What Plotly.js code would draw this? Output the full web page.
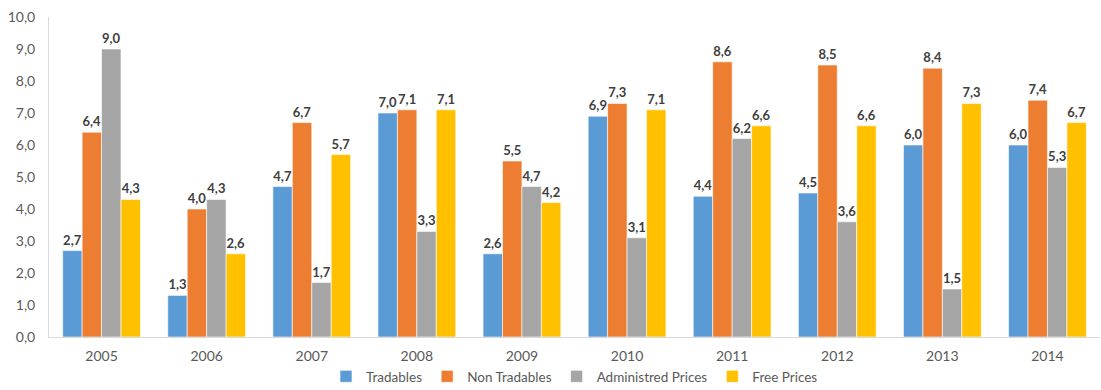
<!DOCTYPE html>
<html>
<head>
<meta charset="utf-8">
<script src="https://cdn.plot.ly/plotly-3.0.1.min.js"></script>
<style>html,body{margin:0;padding:0;background:#fff;}#chart{width:1101px;height:390px;}</style>
</head>
<body>
<div id="chart"></div>
<script>
// Yearly inflation by price group
const years = ['2005','2006','2007','2008','2009','2010','2011','2012','2013','2014'];
const tradables     = [2.7, 1.3, 4.7, 7.0, 2.6, 6.9, 4.4, 4.5, 6.0, 6.0];
const nonTradables  = [6.4, 4.0, 6.7, 7.1, 5.5, 7.3, 8.6, 8.5, 8.4, 7.4];
const administered  = [9.0, 4.3, 1.7, 3.3, 4.7, 3.1, 6.2, 3.6, 1.5, 5.3];
const freePrices    = [4.3, 2.6, 5.7, 7.1, 4.2, 7.1, 6.6, 6.6, 7.3, 6.7];

const seriesNames = ['Tradables', 'Non Tradables', 'Administred Prices', 'Free Prices'];
const seriesColors = ['#5B9BD5', '#ED7D31', '#A5A5A5', '#FFC000'];
const seriesValues = [tradables, nonTradables, administered, freePrices];

const fontFamily = 'Lato, Open Sans, sans-serif';

const traces = seriesValues.map((vals, i) => ({
  type: 'bar',
  name: seriesNames[i],
  x: years,
  y: vals,
  marker: { color: seriesColors[i], line: { color: '#ffffff', width: 0.6 } },
  texttemplate: '%{y:.1f}',
  textposition: 'outside',
  cliponaxis: false,
  textfont: { family: fontFamily, size: 13, color: '#404040', weight: 'bold' },
  hoverinfo: 'x+y+name'
}));

const layout = {
  width: 1101,
  height: 390,
  margin: { l: 49, r: 1, t: 17, b: 53, autoexpand: false },
  paper_bgcolor: '#ffffff',
  plot_bgcolor: '#ffffff',
  separators: ', ',
  barmode: 'group',
  bargap: 0.26,
  bargroupgap: 0,
  font: { family: fontFamily, size: 14, color: '#595959' },
  xaxis: {
    type: 'category',
    showline: true,
    linecolor: '#d9d9d9',
    linewidth: 1,
    showgrid: false,
    ticks: '',
    tickfont: { size: 14, color: '#595959' },
    ticklabelstandoff: 6
  },
  yaxis: {
    range: [0, 10],
    dtick: 1,
    tickformat: '.1f',
    showline: true,
    linecolor: '#d9d9d9',
    linewidth: 1,
    showgrid: false,
    zeroline: false,
    ticks: '',
    tickfont: { size: 14, color: '#595959' },
    ticklabelstandoff: 10
  },
  showlegend: true,
  legend: {
    orientation: 'h',
    x: 0.5,
    xanchor: 'center',
    y: -0.172,
    yanchor: 'bottom',
    bgcolor: 'rgba(0,0,0,0)',
    font: { size: 13.5, color: '#595959' },
    itemwidth: 30,
    traceorder: 'normal'
  }
};

Plotly.newPlot('chart', traces, layout, { displayModeBar: false, staticPlot: true });
</script>
</body>
</html>
